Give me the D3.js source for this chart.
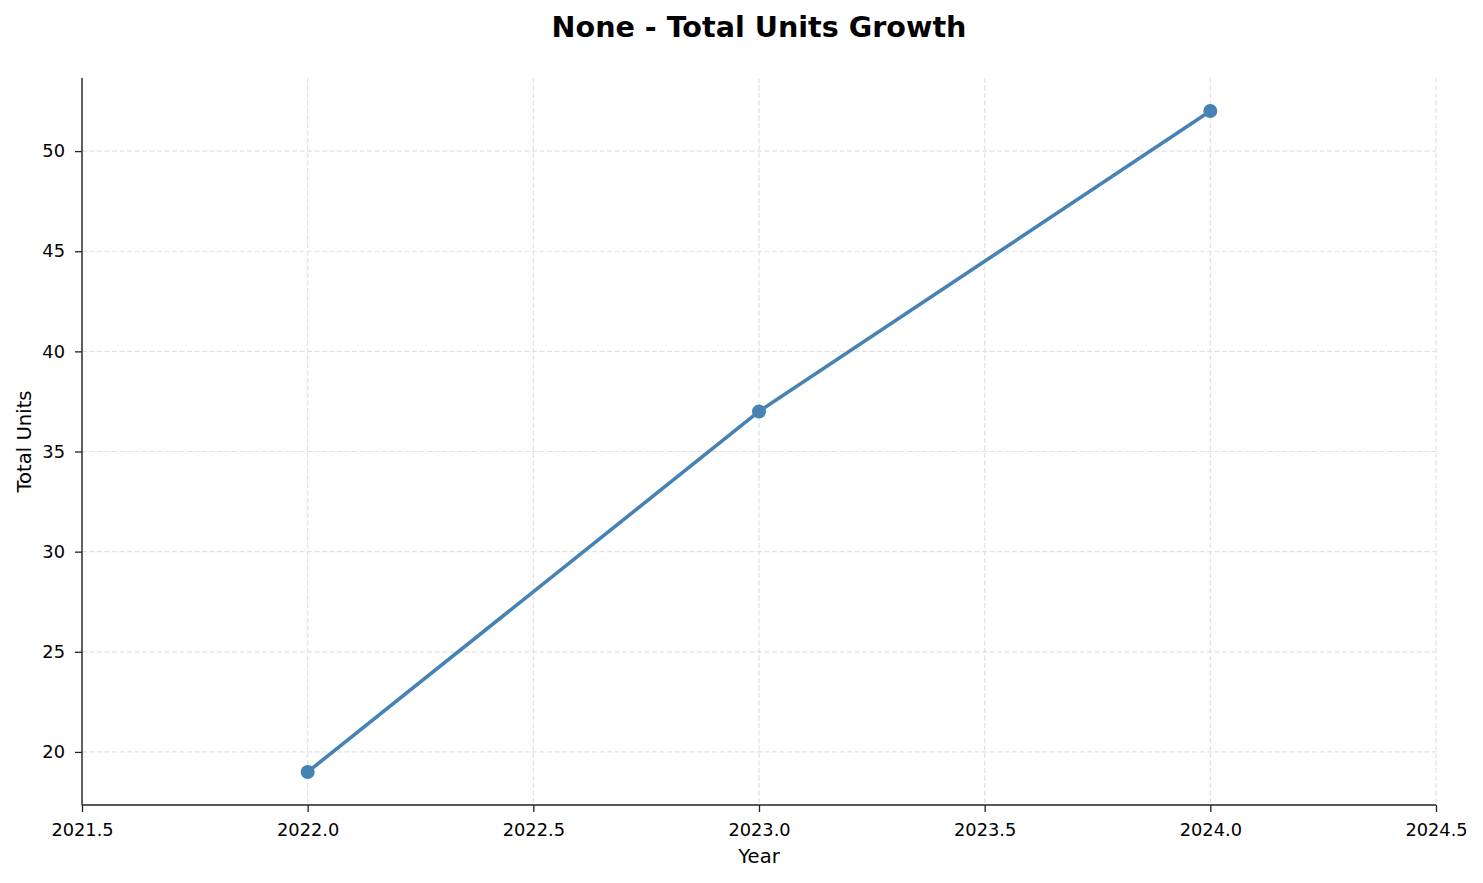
<!DOCTYPE html>
<html>
<head>
<meta charset="utf-8">
<script src="https://cdn.jsdelivr.net/npm/d3@7"></script>
<style>
  body { margin: 0; background: #fff; }
  text { font-family: "DejaVu Sans", sans-serif; }
</style>
</head>
<body>
<script>
// data
var years = [2022, 2023, 2024];
var units = [19, 37, 52];
var xTicks = [2021.5, 2022.0, 2022.5, 2023.0, 2023.5, 2024.0, 2024.5];
var yTicks = [20, 25, 30, 35, 40, 45, 50];

var W = 1483, H = 883;
var margin = {top: 78, right: 47, bottom: 78, left: 82},
    width = W - margin.left - margin.right,
    height = H - margin.top - margin.bottom;

var svg = d3.select("body").append("svg")
    .attr("width", W)
    .attr("height", H);

var g = svg.append("g")
    .attr("transform", "translate(" + margin.left + "," + margin.top + ")");

var x = d3.scaleLinear().domain([2021.5, 2024.5]).range([0, width]);
// matplotlib style 5% padding
var yMin = d3.min(units), yMax = d3.max(units), pad = (yMax - yMin) * 0.05;
var y = d3.scaleLinear().domain([yMin - pad, yMax + pad]).range([height, 0]);

// grid
g.append("g").selectAll("line").data(xTicks).enter().append("line")
    .attr("x1", d => x(d)).attr("x2", d => x(d))
    .attr("y1", 0).attr("y2", height)
    .attr("stroke", "#e2e2e2").attr("stroke-width", 1.2)
    .attr("stroke-dasharray", "5,2.5");
g.append("g").selectAll("line").data(yTicks).enter().append("line")
    .attr("x1", 0).attr("x2", width)
    .attr("y1", d => y(d)).attr("y2", d => y(d))
    .attr("stroke", "#e2e2e2").attr("stroke-width", 1.2)
    .attr("stroke-dasharray", "5,2.5");

// axes
var xAxis = g.append("g")
    .attr("transform", "translate(0," + height + ")")
    .call(d3.axisBottom(x).tickValues(xTicks).tickFormat(d3.format(".1f")).tickSizeOuter(0).tickSize(7).tickPadding(11));
var yAxis = g.append("g")
    .call(d3.axisLeft(y).tickValues(yTicks).tickSizeOuter(0).tickSize(7).tickPadding(10));

[xAxis, yAxis].forEach(function(a) {
  a.select(".domain").attr("stroke", "#222").attr("stroke-width", 1.4);
  a.selectAll(".tick line").attr("stroke", "#222").attr("stroke-width", 1.3);
  a.selectAll(".tick text").attr("fill", "#000").style("font-size", "17.8px")
    .style("font-family", "'DejaVu Sans', sans-serif");
});
xAxis.selectAll(".tick text").attr("dy", "0").attr("y", 31);
// y domain spans whole height
yAxis.select(".domain").attr("d", "M0," + height + "V0");
xAxis.select(".domain").attr("d", "M0,0H" + width);

// line
var pts = years.map((d, i) => ({year: d, val: units[i]}));
var line = d3.line().x(d => x(d.year)).y(d => y(d.val));

g.append("path")
    .datum(pts)
    .attr("d", line)
    .attr("fill", "none")
    .attr("stroke", "#4682b4")
    .attr("stroke-width", 3.6)
    .attr("stroke-linejoin", "round");

g.selectAll(".dot").data(pts).enter().append("circle")
    .attr("class", "dot")
    .attr("cx", d => x(d.year))
    .attr("cy", d => y(d.val))
    .attr("r", 7)
    .attr("fill", "#4682b4");

// labels
svg.append("text")
    .attr("x", margin.left + width / 2)
    .attr("y", 37)
    .attr("text-anchor", "middle")
    .style("font-size", "28.6px")
    .style("font-weight", "bold")
    .text("None - Total Units Growth");

svg.append("text")
    .attr("x", margin.left + width / 2)
    .attr("y", 863)
    .attr("text-anchor", "middle")
    .style("font-size", "19.6px")
    .text("Year");

svg.append("text")
    .attr("transform", "translate(31," + (margin.top + height / 2) + ") rotate(-90)")
    .attr("text-anchor", "middle")
    .style("font-size", "19.6px")
    .text("Total Units");
</script>
</body>
</html>
